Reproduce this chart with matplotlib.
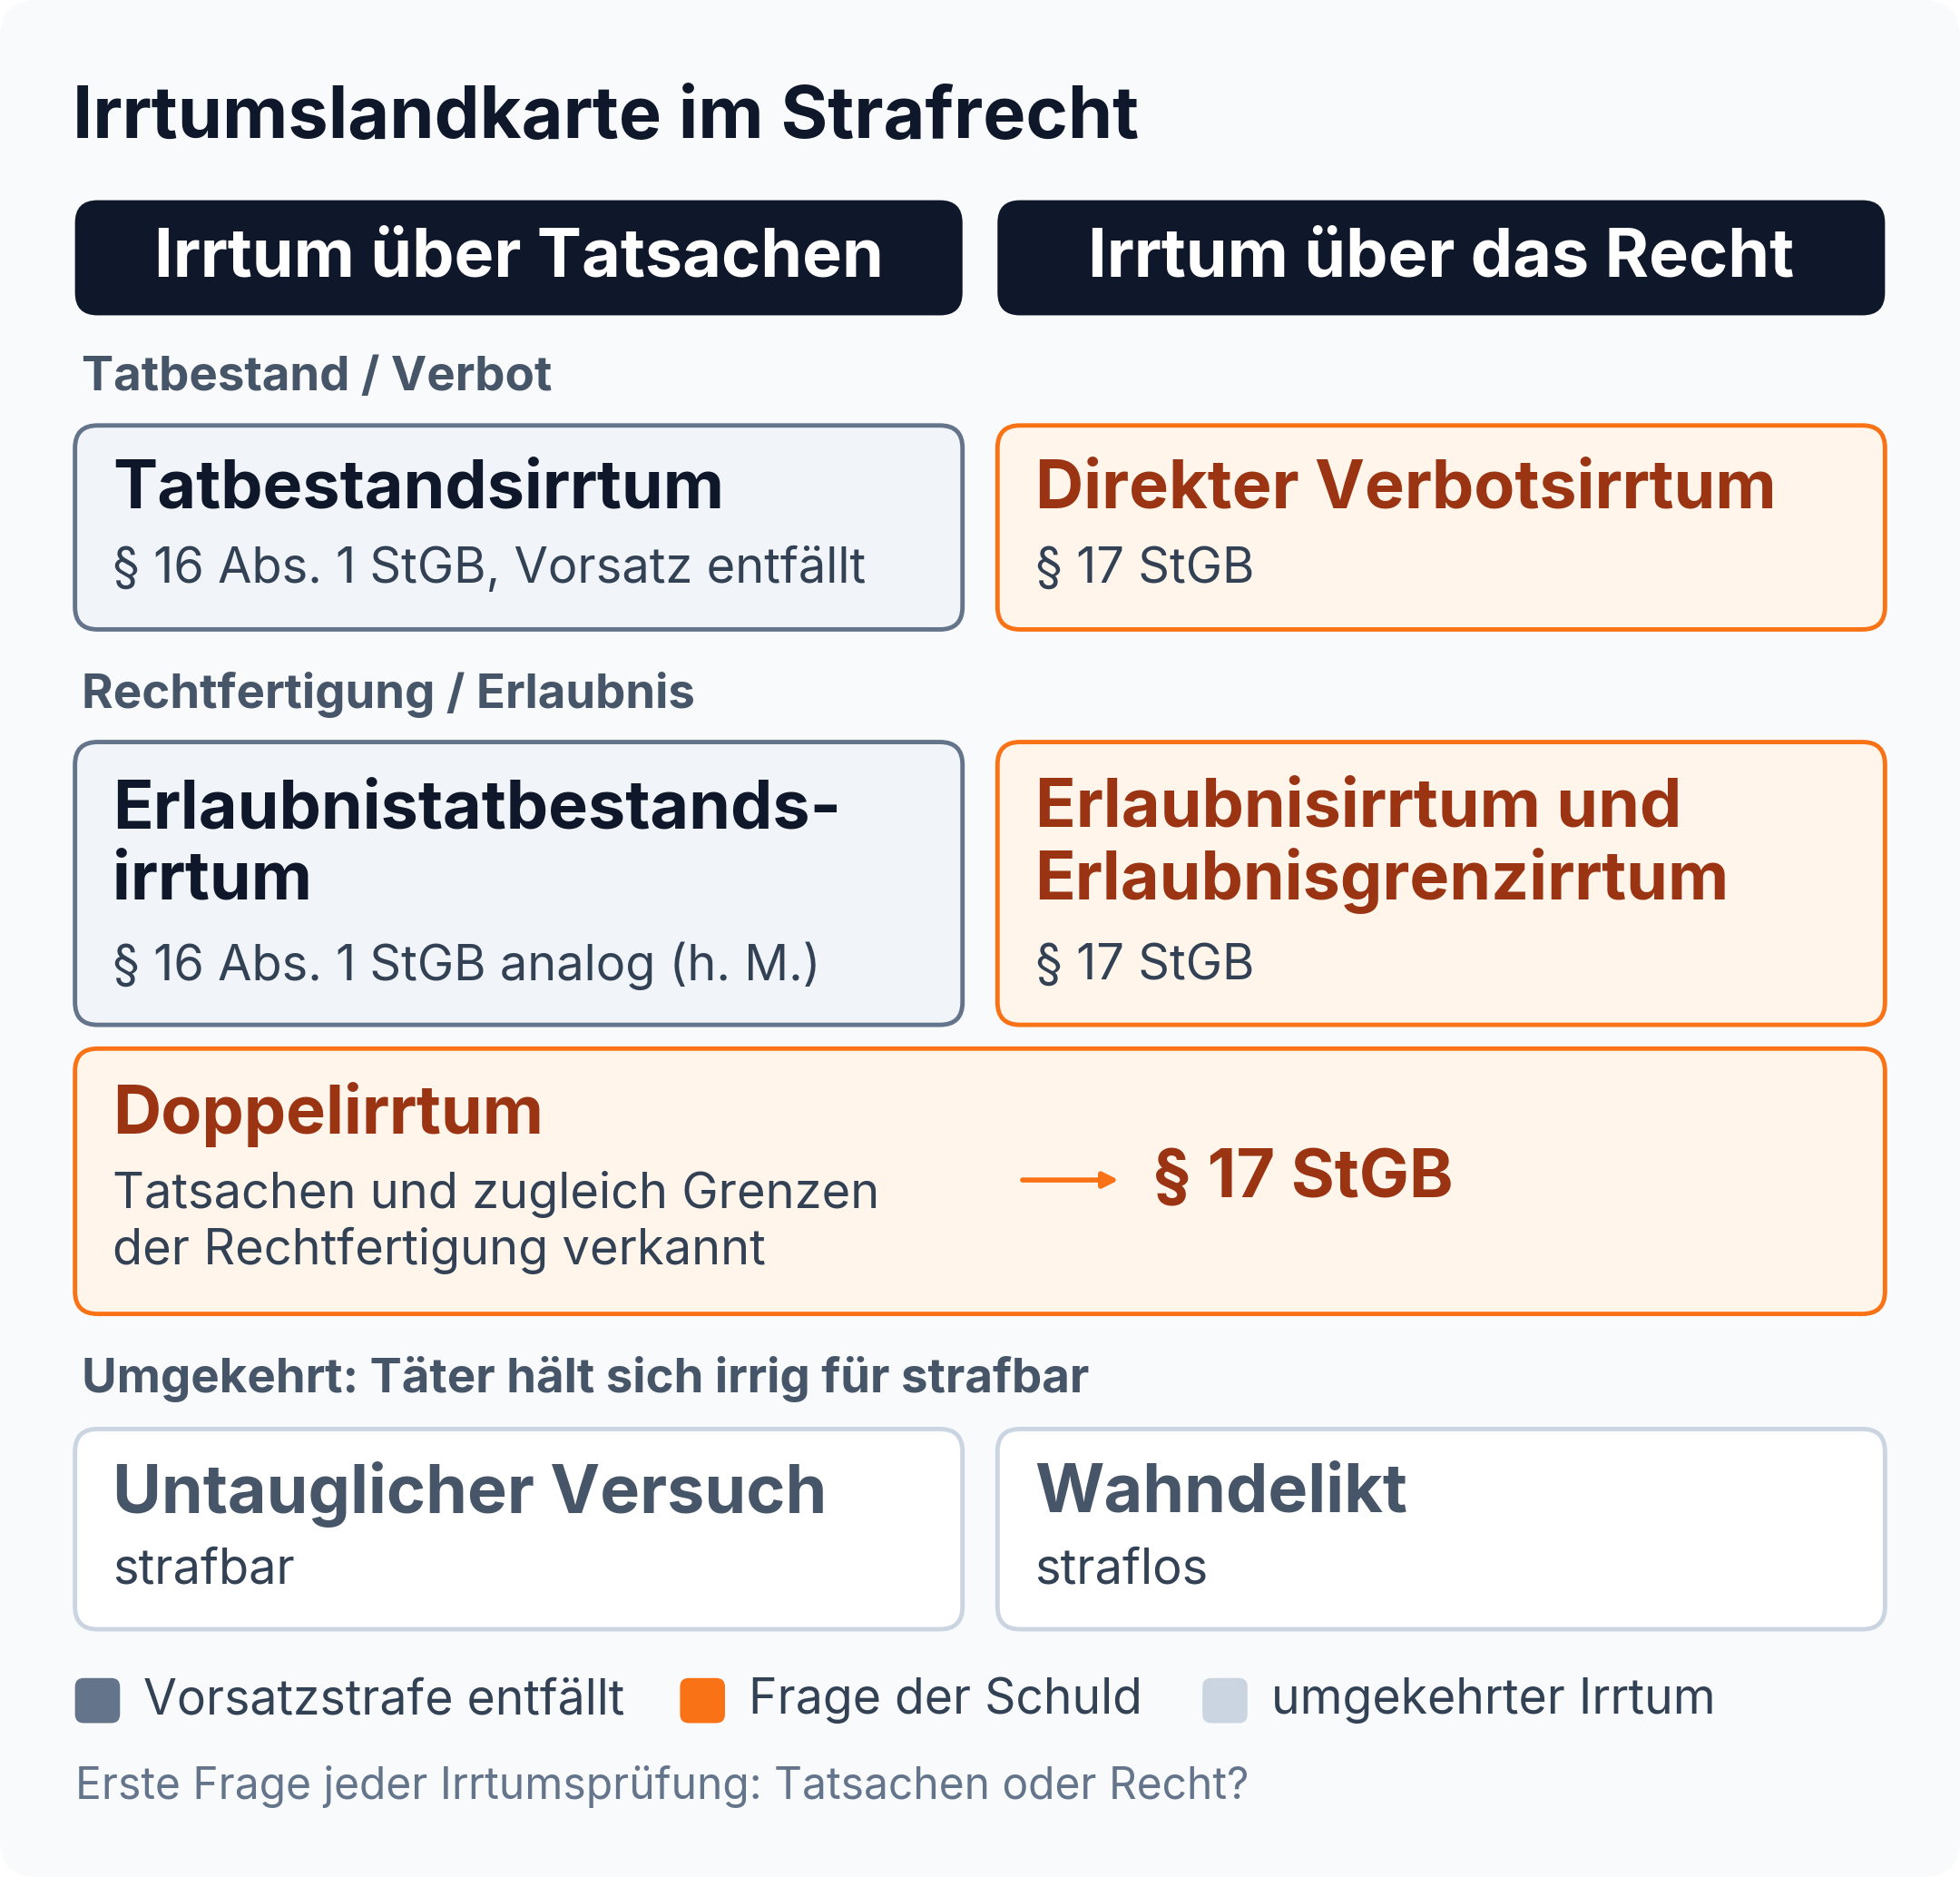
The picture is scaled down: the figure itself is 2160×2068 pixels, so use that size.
import matplotlib
matplotlib.use("Agg")
import matplotlib.pyplot as plt
from matplotlib.patches import FancyBboxPatch

plt.rcParams['font.family'] = ['Inter', 'DejaVu Sans']

title = "Irrtumslandkarte im Strafrecht"
headers = ["Irrtum über Tatsachen", "Irrtum über das Recht"]
sections = ["Tatbestand / Verbot", "Rechtfertigung / Erlaubnis", "Umgekehrt: Täter hält sich irrig für strafbar"]
box_titles = ["Tatbestandsirrtum", "Direkter Verbotsirrtum", "Erlaubnistatbestands-\nirrtum",
              "Erlaubnisirrtum und\nErlaubnisgrenzirrtum", "Doppelirrtum", "Untauglicher Versuch", "Wahndelikt"]
box_subs = ["§ 16 Abs. 1 StGB, Vorsatz entfällt", "§ 17 StGB", "§ 16 Abs. 1 StGB analog (h. M.)",
            "§ 17 StGB", "Tatsachen und zugleich Grenzen\nder Rechtfertigung verkannt", "strafbar", "straflos"]
box_kind = ["gray", "orange", "gray", "orange", "orange", "light", "light"]
double_result = "§ 17 StGB"
legend_labels = ["Vorsatzstrafe entfällt", "Frage der Schuld", "umgekehrter Irrtum"]
footer = "Erste Frage jeder Irrtumsprüfung: Tatsachen oder Recht?"

styles = {
    "gray": dict(fc="#f1f5f9", ec="#64748b", tc="#0f172a", sc="#334155"),
    "orange": dict(fc="#fff5eb", ec="#f97316", tc="#9a3412", sc="#334155"),
    "light": dict(fc="#ffffff", ec="#cbd5e1", tc="#475569", sc="#334155"),
}
legend_colors = ["#64748b", "#f97316", "#cbd5e1"]

W, H = 1568, 1500
fig = plt.figure(figsize=(21.6, 20.68), dpi=100)
fig.patch.set_facecolor("white")
ax = fig.add_axes([0, 0, 1, 1])
ax.set_xlim(0, W); ax.set_ylim(H, 0); ax.axis("off")

ax.add_patch(FancyBboxPatch((0, 0), W, H, boxstyle="round,pad=0,rounding_size=30",
                            fc="#f8fafc", ec="none"))
ax.text(58, 95, title, fontsize=57, fontweight="bold", color="#0f172a", va="center")

def rbox(x, y, w, h, fc, ec, lw=2.5, r=18):
    ax.add_patch(FancyBboxPatch((x, y), w, h, boxstyle=f"round,pad=0,rounding_size={r}",
                                fc=fc, ec=ec, lw=lw * 1.4))

cols = [60, 798]
cw = 710
for i, hd in enumerate(headers):
    rbox(cols[i], 160, cw, 92, "#0f172a", "none", lw=0)
    ax.text(cols[i] + cw / 2, 207, hd, fontsize=53, fontweight="bold", color="white",
            ha="center", va="center")

sec_y = [302, 555, 1102]
for s, y in zip(sections, sec_y):
    ax.text(65, y, s, fontsize=38, fontweight="bold", color="#475569", va="center")

# (x, y, w, h, title_y, sub_y)
layout = [
    (cols[0], 340, cw, 163, 392, 455),
    (cols[1], 340, cw, 163, 392, 455),
    (cols[0], 593, cw, 226, 645, 772),
    (cols[1], 593, cw, 226, 645, 772),
    (60, 838, 1448, 212, 891, 977),
    (cols[0], 1142, cw, 160, 1194, 1255),
    (cols[1], 1142, cw, 160, 1194, 1255),
]
for i, (x, y, w, h, ty, sy) in enumerate(layout):
    st = styles[box_kind[i]]
    rbox(x, y, w, h, st["fc"], st["ec"])
    t = box_titles[i]
    nl = t.count("\n")
    ax.text(x + 30, ty + nl * 31, t, fontsize=53, fontweight="bold", color=st["tc"],
            va="center", linespacing=1.15)
    ax.text(x + 30, sy, box_subs[i], fontsize=39, color=st["sc"], va="center", linespacing=1.25)

ax.annotate("", xy=(897, 943), xytext=(816, 943),
            arrowprops=dict(arrowstyle="-|>,head_length=1.0,head_width=0.5", color="#f97316", lw=4))
ax.text(922, 943, double_result, fontsize=53, fontweight="bold", color="#9a3412", va="center")

lx = [60, 544, 962]
for i, lab in enumerate(legend_labels):
    rbox(lx[i], 1341, 36, 36, legend_colors[i], "none", lw=0, r=7)
    ax.text(lx[i] + 55, 1359, lab, fontsize=38.5, color="#334155", va="center")

ax.text(60, 1428, footer, fontsize=34.5, color="#64748b", va="center")

fig.savefig("out.png", dpi=100, facecolor=fig.get_facecolor())
